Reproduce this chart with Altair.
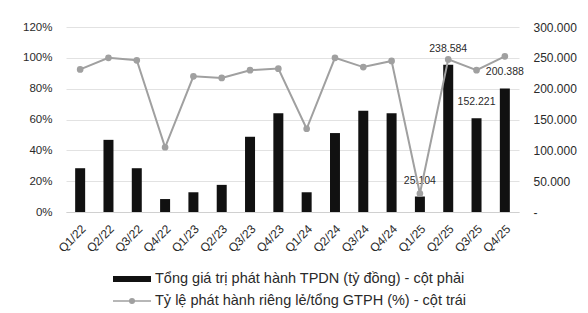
import altair as alt
import pandas as pd

quarters = ["Q1/22", "Q2/22", "Q3/22", "Q4/22", "Q1/23", "Q2/23", "Q3/23", "Q4/23",
            "Q1/24", "Q2/24", "Q3/24", "Q4/24", "Q1/25", "Q2/25", "Q3/25", "Q4/25"]
issuance = [71000, 117000, 71000, 21000, 32000, 44000, 122000, 160000,
            32000, 128000, 164000, 160000, 25104, 238584, 152221, 200388]
private_ratio = [0.925, 1.00, 0.984, 0.42, 0.88, 0.87, 0.92, 0.93,
                 0.54, 1.00, 0.94, 0.98, 0.12, 0.99, 0.92, 1.01]
bar_labels = ["", "", "", "", "", "", "", "", "", "", "", "",
              "25.104", "238.584", "152.221", "200.388"]

bar_name = "Tổng giá trị phát hành TPDN (tỷ đồng) - cột phải"
line_name = "Tỷ lệ phát hành riêng lẻ/tổng GTPH (%) - cột trái"

df = pd.DataFrame({
    "q": quarters,
    "value": issuance,
    "ratio": private_ratio,
    "label": bar_labels,
    "bar_series": bar_name,
    "line_series": line_name,
})

FONT = "Liberation Sans"
TXT = "#2a2a2a"
x_enc = alt.X("q:N", sort=quarters, title=None,
              scale=alt.Scale(paddingInner=0, paddingOuter=0),
              axis=alt.Axis(labelAngle=-45, labelFontSize=12, labelColor=TXT,
                            labelFont=FONT, ticks=False, domainColor="#d0d0d0",
                            labelPadding=11))

base = alt.Chart(df)

bars = base.mark_bar(size=10, color="#111111").encode(
    x=x_enc,
    y=alt.Y("value:Q", title=None,
            scale=alt.Scale(domain=[0, 300000], nice=False),
            axis=alt.Axis(orient="right", values=[0, 50000, 100000, 150000, 200000, 250000, 300000],
                          labelExpr="datum.value == 0 ? '-' : format(datum.value/1000, 'd') + '.000'",
                          grid=False, ticks=False, domain=False, labelFontSize=12,
                          labelColor=TXT, labelFont=FONT, labelPadding=14)),
    color=alt.Color("bar_series:N", title=None,
                    scale=alt.Scale(domain=[bar_name], range=["#111111"]),
                    legend=alt.Legend(orient="none", legendX=46, legendY=232,
                                      symbolType="M-1,-0.16L1,-0.16L1,0.16L-1,0.16Z",
                                      symbolSize=1444, labelFontSize=14.5, labelFont=FONT,
                                      labelColor=TXT, labelLimit=600, labelOffset=3)),
)

texts = base.transform_filter("datum.label != ''").mark_text(
    fontSize=10.5, font=FONT, color=TXT, dy=-16
).encode(
    x=alt.X("q:N", sort=quarters),
    y=alt.Y("value:Q", scale=alt.Scale(domain=[0, 300000], nice=False), axis=None),
    text="label:N",
)

line = base.mark_line(strokeWidth=2, color="#a0a0a0",
                      point=alt.OverlayMarkDef(filled=True, size=22, color="#a0a0a0")).encode(
    x=alt.X("q:N", sort=quarters),
    y=alt.Y("ratio:Q", title=None,
            scale=alt.Scale(domain=[0, 1.2], nice=False),
            axis=alt.Axis(orient="left", values=[0, 0.2, 0.4, 0.6, 0.8, 1.0, 1.2], format=".0%",
                          grid=True, gridColor="#e2e2e2", ticks=False, domain=False,
                          labelFontSize=11.5, labelColor=TXT, labelFont=FONT, labelPadding=14)),
    stroke=alt.Stroke("line_series:N", title=None,
                      scale=alt.Scale(domain=[line_name], range=["#a0a0a0"]),
                      legend=alt.Legend(orient="none", legendX=46, legendY=254,
                                        symbolType="M-1,0L-0.14,0M0.14,0L1,0M-0.12,0A0.12,0.12 0 1,0 0.12,0A0.12,0.12 0 1,0 -0.12,0",
                                        symbolSize=1444, symbolStrokeWidth=1.5,
                                        labelFontSize=14.5, labelFont=FONT,
                                        labelColor=TXT, labelLimit=600, labelOffset=3)),
)

chart = alt.layer(bars, texts, line).resolve_scale(
    y="independent", color="independent", stroke="independent"
).properties(
    width=453, height=185,
    autosize=alt.AutoSizeParams(type="none"),
    padding={"left": 58, "top": 19, "right": 61, "bottom": 101},
).configure_view(stroke=None)

chart.save("out.html", embed_options={"renderer": "svg", "actions": False})
